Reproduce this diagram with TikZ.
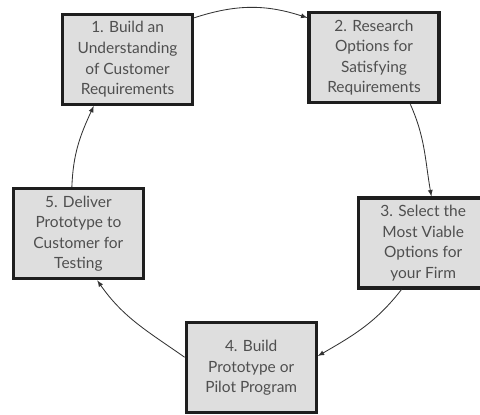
\documentclass[tikz,border=0pt]{standalone}
\usepackage{fontspec}
\setmainfont{Lato}
\usepackage{xcolor}
\usetikzlibrary{arrows}
\definecolor{boxfill}{HTML}{DEDEDE}
\definecolor{boxline}{HTML}{1E1E1E}
\definecolor{boxtext}{HTML}{4F4F4F}
\definecolor{arrowline}{HTML}{333333}

\begin{document}
\begin{tikzpicture}[
  stage/.style={draw=boxline, line width=2.2pt, fill=boxfill, text=boxtext,
    minimum width=3.25cm, minimum height=2.25cm, inner sep=2pt,
    align=center, font=\fontsize{11}{14.6}\selectfont},
  cycle/.style={-latex, draw=arrowline, line width=0.6pt}
]
\useasboundingbox (0,0) rectangle (12,10.375);

%boxes
\node[stage] (b1) at (3.19,8.89) {1. Build an\\Understanding\\of Customer\\Requirements};
\node[stage] (b2) at (9.35,8.93) {2. Research\\Options for\\Satisfying\\Requirements};
\node[stage] (b3) at (10.58,4.30) {3. Select the\\Most Viable\\Options for\\your Firm};
\node[stage] (b4) at (6.28,1.18) {4. Build\\Prototype or\\Pilot Program};
\node[stage] (b5) at (1.96,4.53) {5. Deliver\\Prototype to\\Customer for\\Testing};

%arrows round the cycle
\draw[cycle] (b1.32) to[out=18, in=162] (b2.149);
\draw[cycle] (b2.-52) to[out=-66, in=100] (b3.80);
\draw[cycle] (b3.245) to[out=232, in=30] (b4.10);
\draw[cycle] (b4.171) to[out=145, in=-55] (b5.-68);
\draw[cycle] (b5.98) to[out=88, in=245] (b1.234);
\end{tikzpicture}
\end{document}
